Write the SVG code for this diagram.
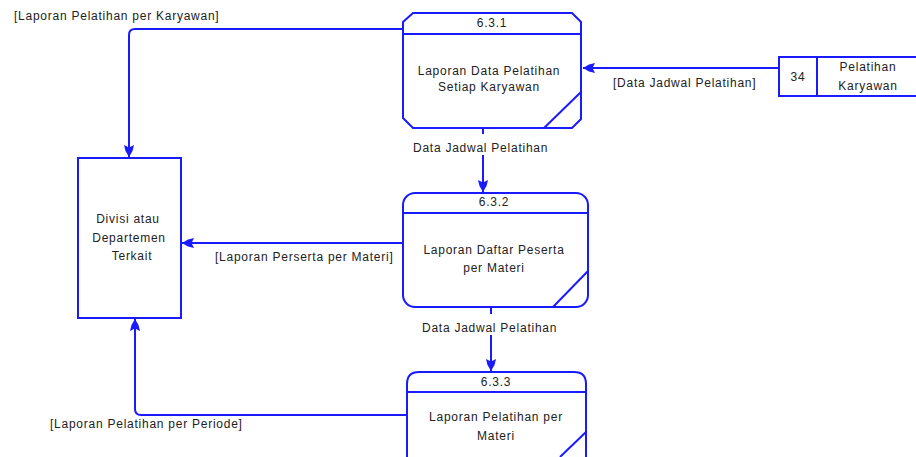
<svg xmlns="http://www.w3.org/2000/svg" width="916" height="457" viewBox="0 0 916 457">
<defs>
<style>
.s{fill:none;stroke:#1a1aff;stroke-width:2}
.c{fill:none;stroke:#1a1aff;stroke-width:2}
text{font-family:"Liberation Sans",Arial,sans-serif;font-size:12px;letter-spacing:0.75px;fill:#222}
.m{text-anchor:middle}
.bg{fill:#fff}
</style>
<marker id="ah" markerUnits="userSpaceOnUse" viewBox="-14 -6 15 12" refX="0" refY="0" markerWidth="15" markerHeight="12" orient="auto">
<path d="M0,0 L-6,-3.5 L-12,-5 L-10,-1 L-10,1 L-12,5 L-6,3.5 Z" fill="#1a1aff"/>
</marker>
</defs>
<rect width="916" height="457" fill="#fff"/>

<g id="connectors">
<path class="c" d="M403,29 H135 Q129,29 129,35 V157" marker-end="url(#ah)"/>
<path class="c" d="M779,68 H583" marker-end="url(#ah)"/>
<path class="c" d="M483,128 V192" marker-end="url(#ah)"/>
<path class="c" d="M403,243 H182" marker-end="url(#ah)"/>
<path class="c" d="M491,307 V371" marker-end="url(#ah)"/>
<path class="c" d="M407,415 H141 Q135,415 135,409 V319" marker-end="url(#ah)"/>
<text x="14" y="20">[Laporan Pelatihan per Karyawan]</text>
<text x="613" y="87">[Data Jadwal Pelatihan]</text>
<rect class="bg" x="410" y="134" width="146" height="21"/>
<text x="413" y="152">Data Jadwal Pelatihan</text>
<text x="215" y="261">[Laporan Perserta per Materi]</text>
<rect class="bg" x="418" y="314" width="146" height="21"/>
<text x="422" y="332">Data Jadwal Pelatihan</text>
<text x="50" y="428">[Laporan Pelatihan per Periode]</text>
</g>

<g id="p631">
<path class="s" d="M413,13 H572 L581,22 V119 L572,128 H413 L403,118 V22 Z"/>
<line class="s" x1="403" y1="34" x2="581" y2="34"/>
<line class="s" x1="544" y1="128" x2="581" y2="92"/>
<text class="m" x="492" y="27">6.3.1</text>
<text class="m" x="489" y="75">Laporan Data Pelatihan</text>
<text class="m" x="489" y="91">Setiap Karyawan</text>
</g>

<g id="p632">
<rect class="s" x="403" y="193" width="185" height="114" rx="12"/>
<line class="s" x1="403" y1="213" x2="588" y2="213"/>
<line class="s" x1="553" y1="307" x2="588" y2="271"/>
<text class="m" x="494" y="206">6.3.2</text>
<text class="m" x="494" y="254">Laporan Daftar Peserta</text>
<text class="m" x="494" y="272">per Materi</text>
</g>

<g id="p633">
<path class="s" d="M407,470 V384 Q407,372 419,372 H574 Q586,372 586,384 V470"/>
<line class="s" x1="407" y1="392" x2="586" y2="392"/>
<line class="s" x1="560" y1="457" x2="586" y2="432"/>
<text class="m" x="496" y="386">6.3.3</text>
<text class="m" x="496" y="421">Laporan Pelatihan per</text>
<text class="m" x="496" y="440">Materi</text>
</g>

<g id="store34">
<path class="s" d="M920,57 H779 V96 H920"/>
<line class="s" x1="817" y1="57" x2="817" y2="96"/>
<text class="m" x="798" y="81">34</text>
<text class="m" x="868" y="71">Pelatihan</text>
<text class="m" x="868" y="90">Karyawan</text>
</g>

<g id="divisi">
<rect class="s" x="78" y="158" width="103" height="160"/>
<text class="m" x="128" y="223">Divisi atau</text>
<text class="m" x="129" y="242">Departemen</text>
<text class="m" x="132" y="260">Terkait</text>
</g>
</svg>
